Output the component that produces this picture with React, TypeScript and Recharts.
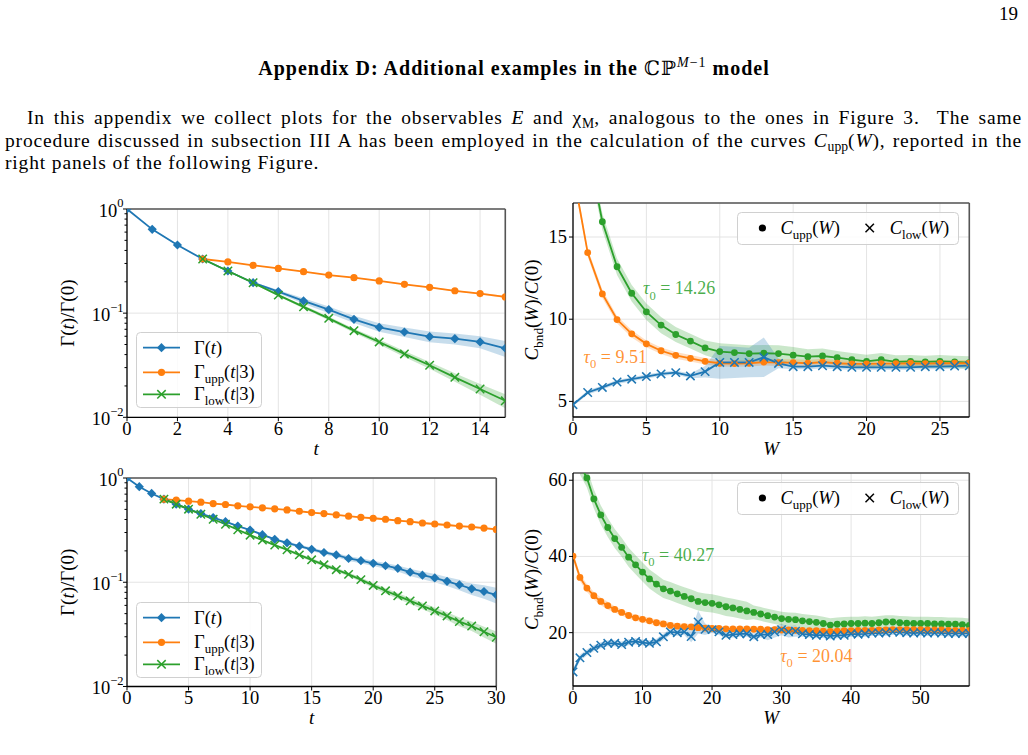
import React from 'react';
import {
  ComposedChart,
  Line,
  Area,
  XAxis,
  YAxis,
  CartesianGrid,
  ReferenceLine,
  ReferenceDot,
  Legend,
  Label,
} from 'recharts';

const BLUE = '#1f77b4';
const ORANGE = '#ff7f0e';
const GREEN = '#2ca02c';
const SERIF = '"Liberation Serif", "DejaVu Serif", serif';
const FS = 18;

// ---------- Top row, left panel: Γ(t) and its bounds, t = 0..15 ----------
const tTop = [0, 1, 2, 3, 4, 5, 6, 7, 8, 9, 10, 11, 12, 13, 14, 15];
const gammaTop = [1.0, 0.638, 0.451, 0.331, 0.254, 0.196, 0.161, 0.131, 0.108, 0.0873, 0.0731, 0.0659, 0.0595, 0.0569, 0.0529, 0.046];
const gammaTopErr = [0, 0.003, 0.003, 0.002, 0.002, 0.003, 0.006, 0.008, 0.008, 0.007, 0.007, 0.007, 0.007, 0.007, 0.007, 0.008];
const uppTop = [null, null, null, 0.331, 0.31, 0.288, 0.269, 0.25, 0.232, 0.219, 0.204, 0.189, 0.177, 0.164, 0.154, 0.143];
const uppTopErr = [0, 0, 0, 0, 0.002, 0.002, 0.002, 0.002, 0.002, 0.002, 0.002, 0.002, 0.002, 0.002, 0.003, 0.003];
const lowTop = [null, null, null, 0.331, 0.254, 0.196, 0.149, 0.115, 0.0892, 0.0679, 0.0529, 0.0406, 0.0316, 0.0242, 0.0187, 0.0144];
const lowTopErr = [0, 0, 0, 0, 0.004, 0.004, 0.004, 0.004, 0.0035, 0.003, 0.0028, 0.0026, 0.0024, 0.0023, 0.0022, 0.0022];

// ---------- Bottom row, left panel: t = 0..30 ----------
const tBot = [0, 1, 2, 3, 4, 5, 6, 7, 8, 9, 10, 11, 12, 13, 14, 15, 16, 17, 18, 19, 20, 21, 22, 23, 24, 25, 26, 27, 28, 29, 30];
const gammaBot = [1.0, 0.825, 0.711, 0.627, 0.561, 0.502, 0.456, 0.417, 0.381, 0.346, 0.317, 0.286, 0.258, 0.239, 0.222, 0.207, 0.193, 0.183, 0.169, 0.161, 0.152, 0.144, 0.136, 0.125, 0.117, 0.11, 0.102, 0.0946, 0.0865, 0.0815, 0.0757];
const gammaBotErr = [0, 0.003, 0.003, 0.003, 0.004, 0.004, 0.005, 0.005, 0.005, 0.006, 0.006, 0.006, 0.007, 0.007, 0.007, 0.008, 0.008, 0.008, 0.009, 0.009, 0.009, 0.009, 0.009, 0.01, 0.01, 0.01, 0.01, 0.011, 0.011, 0.012, 0.013];
const uppBot = [null, null, null, 0.627, 0.613, 0.6, 0.586, 0.569, 0.557, 0.541, 0.529, 0.517, 0.506, 0.494, 0.48, 0.466, 0.456, 0.442, 0.43, 0.42, 0.411, 0.402, 0.39, 0.381, 0.37, 0.362, 0.354, 0.346, 0.339, 0.331, 0.321];
const uppBotErr = [0, 0, 0, 0, 0.004, 0.004, 0.004, 0.004, 0.004, 0.004, 0.005, 0.005, 0.005, 0.005, 0.005, 0.005, 0.006, 0.006, 0.006, 0.006, 0.006, 0.006, 0.006, 0.007, 0.007, 0.007, 0.007, 0.007, 0.008, 0.008, 0.008];
const lowBot = [null, null, null, 0.627, 0.561, 0.502, 0.449, 0.402, 0.36, 0.319, 0.283, 0.254, 0.227, 0.205, 0.183, 0.164, 0.147, 0.132, 0.119, 0.106, 0.0932, 0.0828, 0.0741, 0.0663, 0.0593, 0.0531, 0.0475, 0.0419, 0.038, 0.0335, 0.0297];
const lowBotErr = [0, 0, 0, 0, 0.006, 0.006, 0.006, 0.006, 0.006, 0.006, 0.006, 0.006, 0.006, 0.006, 0.006, 0.006, 0.006, 0.0055, 0.005, 0.005, 0.005, 0.0048, 0.0046, 0.0044, 0.0042, 0.004, 0.004, 0.004, 0.004, 0.004, 0.004];

// ---------- Top row, right panel: C_bnd(W)/C(0), W = 0..27 ----------
const wTop = [0, 1, 2, 3, 4, 5, 6, 7, 8, 9, 10, 11, 12, 13, 14, 15, 16, 17, 18, 19, 20, 21, 22, 23, 24, 25, 26, 27];
const cUppGreenTop = [null, 20.5, 15.93, 13.19, 11.58, 10.45, 9.64, 9.07, 8.67, 8.25, 8.03, 7.97, 7.91, 7.93, 7.91, 7.81, 7.72, 7.76, 7.66, 7.54, 7.44, 7.54, 7.4, 7.44, 7.4, 7.44, 7.4, 7.36];
const cUppGreenTopErr = [0, 0.6, 0.5, 0.5, 0.5, 0.5, 0.5, 0.45, 0.45, 0.45, 0.5, 0.5, 0.5, 0.5, 0.5, 0.5, 0.45, 0.45, 0.4, 0.4, 0.4, 0.4, 0.4, 0.38, 0.38, 0.38, 0.38, 0.38];
const cUppOrangeTop = [19.0, 14.05, 11.54, 9.98, 9.11, 8.5, 8.08, 7.8, 7.62, 7.44, 7.32, 7.3, 7.32, 7.39, 7.36, 7.36, 7.32, 7.39, 7.32, 7.28, 7.28, 7.3, 7.3, 7.32, 7.3, 7.32, 7.32, 7.32];
const cUppOrangeTopErr = [0.3, 0.25, 0.25, 0.22, 0.22, 0.2, 0.2, 0.2, 0.2, 0.2, 0.2, 0.2, 0.2, 0.2, 0.2, 0.2, 0.2, 0.2, 0.2, 0.2, 0.2, 0.2, 0.2, 0.2, 0.2, 0.2, 0.2, 0.2];
const cLowTop = [4.8, 5.54, 5.85, 6.18, 6.35, 6.51, 6.67, 6.75, 6.55, 6.81, 7.37, 7.37, 7.37, 7.68, 7.31, 7.11, 7.11, 7.17, 7.11, 7.07, 7.07, 7.07, 7.07, 7.07, 7.11, 7.11, 7.15, 7.17];
const cLowTopErr = [0.1, 0.12, 0.12, 0.12, 0.12, 0.12, 0.12, 0.12, 0.15, 0.35, 1.0, 0.95, 0.9, 1.2, 0.3, 0.15, 0.15, 0.15, 0.15, 0.15, 0.15, 0.15, 0.15, 0.15, 0.15, 0.15, 0.15, 0.15];

// ---------- Bottom row, right panel: W = 0..57 ----------
const wBot = [0, 1, 2, 3, 4, 5, 6, 7, 8, 9, 10, 11, 12, 13, 14, 15, 16, 17, 18, 19, 20, 21, 22, 23, 24, 25, 26, 27, 28, 29, 30, 31, 32, 33, 34, 35, 36, 37, 38, 39, 40, 41, 42, 43, 44, 45, 46, 47, 48, 49, 50, 51, 52, 53, 54, 55, 56, 57];
const cUppGreenBot = [null, 64, 60.6, 55.1, 50.9, 47.6, 44.7, 42.4, 39.8, 37.8, 35.9, 34.1, 32.75, 31.5, 30.9, 30.2, 29.5, 28.9, 28.2, 27.9, 27.7, 27.3, 26.8, 26.5, 26.1, 25.7, 25.3, 24.9, 24.45, 24.1, 23.7, 23.5, 23.4, 23.1, 22.9, 22.7, 22.4, 22.0, 22.2, 22.3, 22.4, 22.4, 22.5, 22.4, 22.6, 22.8, 22.8, 22.6, 22.5, 22.4, 22.4, 22.4, 22.3, 22.3, 22.2, 22.2, 22.1, 21.9];
const cUppGreenBotErr = [0, 2.5, 2.5, 2.5, 2.5, 2.5, 2.5, 2.5, 2.5, 2.5, 2.5, 2.5, 2.5, 2.4, 2.4, 2.4, 2.4, 2.4, 2.4, 2.4, 2.4, 2.4, 2.4, 2.4, 2.4, 2.4, 1.8, 1.8, 1.8, 1.8, 1.8, 1.8, 1.8, 1.8, 1.8, 1.8, 1.8, 1.8, 1.8, 1.8, 1.8, 1.8, 1.8, 1.8, 1.8, 1.8, 1.8, 1.8, 1.8, 1.8, 1.8, 1.8, 1.8, 1.8, 1.8, 1.8, 1.8, 1.8];
const cUppOrangeBot = [40.1, 34.5, 31.7, 29.7, 28.2, 27.1, 26.1, 25.3, 24.5, 23.9, 23.5, 23.1, 22.6, 22.3, 21.9, 21.7, 21.6, 21.5, 21.3, 21.2, 21.1, 21.1, 21.0, 21.0, 21.0, 21.0, 20.9, 20.9, 20.8, 20.8, 20.7, 20.7, 20.6, 20.6, 20.5, 20.5, 20.4, 20.3, 20.4, 20.5, 20.5, 20.6, 20.6, 20.6, 20.7, 20.7, 20.8, 20.8, 20.8, 20.8, 20.8, 20.7, 20.7, 20.7, 20.6, 20.6, 20.6, 20.6];
const cUppOrangeBotErr = [1.0, 1.0, 1.0, 1.0, 1.0, 1.0, 0.8, 0.8, 0.8, 0.8, 0.8, 0.8, 0.8, 0.8, 0.8, 0.8, 0.8, 0.8, 0.8, 0.8, 0.8, 0.7, 0.7, 0.7, 0.7, 0.7, 0.7, 0.7, 0.7, 0.7, 0.7, 0.7, 0.7, 0.7, 0.7, 0.7, 0.7, 0.7, 0.7, 0.7, 0.7, 0.7, 0.7, 0.7, 0.7, 0.7, 0.7, 0.7, 0.7, 0.7, 0.7, 0.7, 0.7, 0.7, 0.7, 0.7, 0.7, 0.7];
const cLowBot = [9.7, 13.4, 14.8, 15.9, 16.7, 17.2, 17.2, 16.9, 17.5, 17.7, 17.4, 17.2, 17.6, 18.9, 20.2, 20.0, 20.2, 19.0, 22.8, 20.9, 20.8, 20.2, 19.3, 19.5, 19.7, 19.7, 18.95, 19.5, 19.5, 20.2, 20.8, 20.2, 20.4, 19.7, 19.5, 19.3, 19.4, 19.1, 19.3, 19.3, 19.7, 19.6, 19.7, 19.9, 19.9, 20.0, 20.2, 20.1, 20.0, 19.9, 20.0, 19.9, 20.0, 19.9, 19.8, 19.8, 19.8, 19.8];
const cLowBotErr = [0.8, 0.8, 0.8, 0.8, 0.8, 0.8, 0.8, 0.8, 0.8, 0.8, 0.8, 0.8, 0.8, 0.8, 0.8, 0.8, 0.8, 1.5, 3.0, 1.5, 0.8, 0.8, 0.8, 0.8, 0.8, 0.8, 0.8, 0.8, 1.5, 1.5, 1.5, 1.5, 1.5, 0.8, 0.8, 0.8, 0.8, 0.8, 0.8, 0.8, 0.8, 0.8, 0.8, 0.8, 0.8, 0.8, 0.8, 0.8, 0.8, 0.8, 0.8, 0.8, 0.8, 0.8, 0.8, 0.8, 0.8, 0.8];

// ---------- Axis ticks ----------
const logTicks = [0.01, 0.02, 0.03, 0.04, 0.05, 0.06, 0.07, 0.08, 0.09, 0.1, 0.2, 0.3, 0.4, 0.5, 0.6, 0.7, 0.8, 0.9, 1];
const logMajor = [0.01, 0.1, 1];
const logExp: Record<string, string> = { '0.01': '−2', '0.1': '−1', '1': '0' };
const tTopTicks = [0, 2, 4, 6, 8, 10, 12, 14];
const tBotTicks = [0, 5, 10, 15, 20, 25, 30];
const wTopTicks = [0, 5, 10, 15, 20, 25];
const wBotTicks = [0, 10, 20, 30, 40, 50];
const cTopTicks = [5, 10, 15];
const cBotTicks = [20, 40, 60];

type Seg = { t: string; it?: boolean; sub?: boolean; sup?: boolean };

function mathSpans(segs: Seg[], size: number) {
  let shift = 0;
  return segs.map((s, i) => {
    const target = s.sub ? size * 0.28 : s.sup ? -size * 0.45 : 0;
    const dy = target - shift;
    shift = target;
    return (
      <tspan
        key={i}
        dy={dy}
        fontStyle={s.it ? 'italic' : 'normal'}
        fontSize={s.sub || s.sup ? size * 0.7 : size}
      >
        {s.t}
      </tspan>
    );
  });
}

function buildRows(xs: number[], cols: Record<string, (number | null)[]>, errs: Record<string, number[]>) {
  return xs.map((x, i) => {
    const r: any = { x };
    Object.keys(cols).forEach((k) => {
      const v = cols[k][i];
      const e = errs[k][i];
      r[k] = v;
      r[k + 'Band'] = v == null ? null : [v - e, v + e];
    });
    return r;
  });
}

const dataTL = buildRows(tTop, { g: gammaTop, u: uppTop, l: lowTop }, { g: gammaTopErr, u: uppTopErr, l: lowTopErr });
const dataBL = buildRows(tBot, { g: gammaBot, u: uppBot, l: lowBot }, { g: gammaBotErr, u: uppBotErr, l: lowBotErr });
const dataTR = buildRows(wTop, { gr: cUppGreenTop, or: cUppOrangeTop, lo: cLowTop }, { gr: cUppGreenTopErr, or: cUppOrangeTopErr, lo: cLowTopErr });
const dataBR = buildRows(wBot, { gr: cUppGreenBot, or: cUppOrangeBot, lo: cLowBot }, { gr: cUppGreenBotErr, or: cUppOrangeBotErr, lo: cLowBotErr });

type Marker = 'diamond' | 'circle' | 'cross';

function markerShape(kind: Marker, color: string, cx: number, cy: number, key?: any, r = 3.6) {
  if (kind === 'diamond') {
    const d = 4.6;
    return <path key={key} d={`M${cx},${cy - d}L${cx + d},${cy}L${cx},${cy + d}L${cx - d},${cy}Z`} fill={color} />;
  }
  if (kind === 'circle') return <circle key={key} cx={cx} cy={cy} r={r} fill={color} />;
  const s = 4.2;
  return (
    <g key={key} stroke={color} strokeWidth={1.5}>
      <line x1={cx - s} y1={cy - s} x2={cx + s} y2={cy + s} />
      <line x1={cx - s} y1={cy + s} x2={cx + s} y2={cy - s} />
    </g>
  );
}

function makeDot(kind: Marker, color: string, r?: number) {
  return (p: any) => {
    const { cx, cy, index, value } = p;
    if (cx == null || cy == null || value == null || Number.isNaN(cy)) return <g key={'d' + index} />;
    return markerShape(kind, color, cx, cy, 'd' + index, r);
  };
}

const XTick = (p: any) => (
  <g>
    <line x1={p.x} x2={p.x} y1={p.y} y2={p.y + 4} stroke="#000" />
    <text x={p.x} y={p.y + 18} textAnchor="middle" fontSize={FS + 0.5} fontFamily={SERIF} fill="#000">
      {p.payload.value}
    </text>
  </g>
);

const YTick = (p: any) => (
  <g>
    <line x1={p.x - 4} x2={p.x} y1={p.y} y2={p.y} stroke="#000" />
    <text x={p.x - 6} y={p.y + 6} textAnchor="end" fontSize={FS + 0.5} fontFamily={SERIF} fill="#000">
      {p.payload.value}
    </text>
  </g>
);

const LogTick = (p: any) => {
  const v = p.payload.value;
  const major = logMajor.some((m) => Math.abs(m - v) < 1e-9);
  if (!major) return <line x1={p.x - 2.5} x2={p.x} y1={p.y} y2={p.y} stroke="#000" />;
  return (
    <g>
      <line x1={p.x - 4} x2={p.x} y1={p.y} y2={p.y} stroke="#000" />
      <text x={p.x - 3.5} y={p.y + 8} textAnchor="end" fontSize={FS + 0.5} fontFamily={SERIF} fill="#000">
        10
        <tspan dy={-9.5} fontSize={12.5}>
          {logExp[String(v)]}
        </tspan>
      </text>
    </g>
  );
};

type Geo = { left: number; top: number; width: number; height: number };
type Series = { key: string; color: string; marker: Marker; r?: number };
type Note = { x: number; y: number; segs: Seg[]; color: string };

const AX_W = 72;
const PAD_T = 14;
const PAD_R = 16;
const AX_H = 48;

type PanelProps = {
  geo: Geo;
  data: any[];
  xDomain: [number, number];
  xTicks: number[];
  yDomain: [number, number];
  yTicks: number[];
  log?: boolean;
  series: Series[];
  xLabel: Seg[];
  yLabel: Seg[];
  yLabelOffset: number;
  legend: React.ReactNode;
  legendAt: { x: number; y: number; w: number; h: number };
  notes?: Note[];
};

function Panel(p: PanelProps) {
  const box = {
    left: p.geo.left - AX_W,
    top: p.geo.top - PAD_T,
    width: p.geo.width + AX_W + PAD_R,
    height: p.geo.height + PAD_T + AX_H,
  };
  const grid = '#e4e4e4';
  return (
    <div style={{ position: 'absolute', left: box.left, top: box.top }}>
      <ComposedChart
        width={box.width}
        height={box.height}
        data={p.data}
        margin={{ top: PAD_T, right: PAD_R, bottom: 0, left: 0 }}
        style={{ fontFamily: SERIF }}
      >
        <CartesianGrid stroke={grid} strokeWidth={1} horizontal={!p.log} />
        {p.log &&
          logMajor.map((v) => <ReferenceLine key={'hg' + v} y={v} stroke={grid} strokeWidth={1} />)}
        <XAxis
          dataKey="x"
          type="number"
          domain={p.xDomain}
          ticks={p.xTicks}
          interval={0}
          allowDataOverflow
          height={AX_H}
          tickSize={0}
          tickMargin={0}
          tickLine={false}
          axisLine={{ stroke: '#000', strokeWidth: 1.3 }}
          tick={(tp: any) => <XTick {...tp} />}
          label={
            <Label
              content={(lp: any) => {
                const vb = lp.viewBox;
                return (
                  <text x={vb.x + vb.width / 2} y={vb.y + 38} textAnchor="middle" fontSize={FS + 1} fontFamily={SERIF}>
                    {mathSpans(p.xLabel, FS + 1)}
                  </text>
                );
              }}
            />
          }
        />
        <YAxis
          type="number"
          scale={p.log ? 'log' : 'auto'}
          domain={p.yDomain}
          ticks={p.yTicks}
          interval={0}
          allowDataOverflow
          width={AX_W}
          tickSize={0}
          tickMargin={0}
          tickLine={false}
          axisLine={{ stroke: '#000', strokeWidth: 1.3 }}
          tick={(tp: any) => (p.log ? <LogTick {...tp} /> : <YTick {...tp} />)}
          label={
            <Label
              content={(lp: any) => {
                const vb = lp.viewBox;
                const cx = vb.x + p.yLabelOffset;
                const cy = vb.y + vb.height / 2;
                return (
                  <text
                    x={cx}
                    y={cy}
                    transform={`rotate(-90 ${cx} ${cy})`}
                    textAnchor="middle"
                    fontSize={FS + 1}
                    fontFamily={SERIF}
                  >
                    {mathSpans(p.yLabel, FS + 1)}
                  </text>
                );
              }}
            />
          }
        />
        <ReferenceLine y={p.yDomain[1]} stroke="#555" strokeWidth={1.6} />
        <ReferenceLine x={p.xDomain[1]} stroke="#555" strokeWidth={1.6} />
        {p.series.map((s) => (
          <Area
            key={'band-' + s.key}
            dataKey={s.key + 'Band'}
            type="linear"
            stroke="none"
            fill={s.color}
            fillOpacity={0.25}
            isAnimationActive={false}
            activeDot={false}
            connectNulls={false}
          />
        ))}
        {p.series.map((s) => (
          <Line
            key={'line-' + s.key}
            dataKey={s.key}
            type="linear"
            stroke={s.color}
            strokeWidth={1.8}
            dot={makeDot(s.marker, s.color, s.r)}
            activeDot={false}
            isAnimationActive={false}
          />
        ))}
        {(p.notes || []).map((n, i) => (
          <ReferenceDot
            key={'note' + i}
            x={n.x}
            y={n.y}
            r={0}
            shape={(sp: any) => (
              <text x={sp.cx} y={sp.cy + 6} fill={n.color} fillOpacity={0.85} fontSize={FS} fontFamily={SERIF}>
                {mathSpans(n.segs, FS)}
              </text>
            )}
          />
        ))}
        <Legend
          layout="horizontal"
          verticalAlign="middle"
          align="center"
          wrapperStyle={{
            position: 'absolute',
            left: p.legendAt.x - box.left,
            top: p.legendAt.y - box.top,
            width: p.legendAt.w,
            height: p.legendAt.h,
          }}
          content={() => p.legend}
        />
      </ComposedChart>
    </div>
  );
}

const gammaLegendRows: { color: string; marker: Marker; segs: Seg[]; y: number }[] = [
  { color: BLUE, marker: 'diamond', segs: [{ t: 'Γ(' }, { t: 't', it: true }, { t: ')' }], y: 15.7 },
  { color: ORANGE, marker: 'circle', segs: [{ t: 'Γ' }, { t: 'upp', sub: true }, { t: '(' }, { t: 't', it: true }, { t: '|3)' }], y: 40.3 },
  { color: GREEN, marker: 'cross', segs: [{ t: 'Γ' }, { t: 'low', sub: true }, { t: '(' }, { t: 't', it: true }, { t: '|3)' }], y: 62.3 },
];

const GammaLegend = () => (
  <svg width={126} height={76} style={{ display: 'block', overflow: 'visible' }}>
    <rect x={0.5} y={0.5} width={125} height={75} rx={4} fill="#fff" fillOpacity={0.85} stroke="#d0d0d0" />
    {gammaLegendRows.map((r, i) => (
      <g key={i}>
        <line x1={7} x2={44} y1={r.y} y2={r.y} stroke={r.color} strokeWidth={1.8} />
        {markerShape(r.marker, r.color, 25.5, r.y)}
        <text x={58} y={r.y + 6} fontSize={FS + 0.5} fontFamily={SERIF}>
          {mathSpans(r.segs, FS + 0.5)}
        </text>
      </g>
    ))}
  </svg>
);

const BoundLegend = () => (
  <svg width={222} height={33} style={{ display: 'block', overflow: 'visible' }}>
    <rect x={0.5} y={0.5} width={221} height={32} rx={4} fill="#fff" fillOpacity={0.85} stroke="#d0d0d0" />
    {markerShape('circle', '#000', 25.4, 16)}
    <text x={43.4} y={22} fontSize={FS + 0.5} fontFamily={SERIF}>
      {mathSpans([{ t: 'C', it: true }, { t: 'upp', sub: true }, { t: '(' }, { t: 'W', it: true }, { t: ')' }], FS + 0.5)}
    </text>
    {markerShape('cross', '#000', 132.7, 16)}
    <text x={152.7} y={22} fontSize={FS + 0.5} fontFamily={SERIF}>
      {mathSpans([{ t: 'C', it: true }, { t: 'low', sub: true }, { t: '(' }, { t: 'W', it: true }, { t: ')' }], FS + 0.5)}
    </text>
  </svg>
);

const gammaSeries: Series[] = [
  { key: 'g', color: BLUE, marker: 'diamond' },
  { key: 'u', color: ORANGE, marker: 'circle' },
  { key: 'l', color: GREEN, marker: 'cross' },
];

const boundSeries: Series[] = [
  { key: 'gr', color: GREEN, marker: 'circle', r: 3.4 },
  { key: 'or', color: ORANGE, marker: 'circle', r: 3.4 },
  { key: 'lo', color: BLUE, marker: 'cross' },
];

const gammaYLabel: Seg[] = [{ t: 'Γ(' }, { t: 't', it: true }, { t: ')/Γ(0)' }];
const boundYLabel: Seg[] = [
  { t: 'C', it: true },
  { t: 'bnd', sub: true },
  { t: '(' },
  { t: 'W', it: true },
  { t: ')/' },
  { t: 'C', it: true },
  { t: '(0)' },
];

const tau = (v: string): Seg[] => [{ t: 'τ', it: true }, { t: '0', sub: true }, { t: ' = ' + v }];

const sub: React.CSSProperties = { fontSize: '0.7em', verticalAlign: '-0.3em', lineHeight: 0, letterSpacing: 0 };
const sup: React.CSSProperties = { fontSize: '0.7em', verticalAlign: '0.55em', lineHeight: 0, fontWeight: 'normal' };

export default function App() {
  return (
    <div
      style={{
        position: 'absolute',
        left: 0,
        top: 0,
        width: 1028,
        height: 755,
        background: '#fff',
        overflow: 'hidden',
        fontFamily: SERIF,
        color: '#000',
      }}
    >
      <div style={{ position: 'absolute', right: 10, top: 2, fontSize: 19, lineHeight: '24px' }}>19</div>
      <div
        style={{
          position: 'absolute',
          left: 0,
          width: 1028,
          top: 56,
          textAlign: 'center',
          fontWeight: 'bold',
          fontSize: 20,
          letterSpacing: 1,
          lineHeight: '24px',
        }}
      >
        Appendix D: Additional examples in the <span style={{ fontWeight: 'normal' }}>ℂℙ</span>
        <span style={{ ...sup, fontStyle: 'italic' }}>M</span>
        <span style={sup}>−1</span> model
      </div>
      <div
        style={{
          position: 'absolute',
          left: 5,
          top: 107,
          width: 1017,
          fontSize: 19.5,
          letterSpacing: 0.85,
          lineHeight: '22.5px',
        }}
      >
        <div style={{ textAlign: 'justify', textAlignLast: 'justify', paddingLeft: 22 }}>
          In this appendix we collect plots for the observables <i>E</i> and χ<span style={sub}>M</span>, analogous to
          the ones in Figure 3.&nbsp; The same
        </div>
        <div style={{ textAlign: 'justify', textAlignLast: 'justify' }}>
          procedure discussed in subsection III A has been employed in the calculation of the curves <i>C</i>
          <span style={sub}>upp</span>(<i>W</i>), reported in the
        </div>
        <div>right panels of the following Figure.</div>
      </div>

      <Panel
        geo={{ left: 126.7, top: 209, width: 378.3, height: 208.3 }}
        data={dataTL}
        xDomain={[0, 15]}
        xTicks={tTopTicks}
        yDomain={[0.01, 1]}
        yTicks={logTicks}
        log
        series={gammaSeries}
        xLabel={[{ t: 't', it: true }]}
        yLabel={gammaYLabel}
        yLabelOffset={19}
        legend={<GammaLegend />}
        legendAt={{ x: 136, y: 332, w: 126, h: 76 }}
      />
      <Panel
        geo={{ left: 572.7, top: 203.3, width: 396.3, height: 214 }}
        data={dataTR}
        xDomain={[0, 27]}
        xTicks={wTopTicks}
        yDomain={[4.05, 17.07]}
        yTicks={cTopTicks}
        series={boundSeries}
        xLabel={[{ t: 'W', it: true }]}
        yLabel={boundYLabel}
        yLabelOffset={37}
        legend={<BoundLegend />}
        legendAt={{ x: 737.3, y: 212.3, w: 222, h: 33 }}
        notes={[
          { x: 4.77, y: 11.87, segs: tau('14.26'), color: GREEN },
          { x: 0.72, y: 7.7, segs: tau('9.51'), color: ORANGE },
        ]}
      />
      <Panel
        geo={{ left: 126.7, top: 477.5, width: 369.3, height: 208.5 }}
        data={dataBL}
        xDomain={[0, 30]}
        xTicks={tBotTicks}
        yDomain={[0.01, 1]}
        yTicks={logTicks}
        log
        series={gammaSeries}
        xLabel={[{ t: 't', it: true }]}
        yLabel={gammaYLabel}
        yLabelOffset={19}
        legend={<GammaLegend />}
        legendAt={{ x: 136, y: 601.7, w: 126, h: 76 }}
      />
      <Panel
        geo={{ left: 572.7, top: 472.7, width: 396.3, height: 213 }}
        data={dataBR}
        xDomain={[0, 57]}
        xTicks={wBotTicks}
        yDomain={[6, 61.9]}
        yTicks={cBotTicks}
        series={boundSeries}
        xLabel={[{ t: 'W', it: true }]}
        yLabel={boundYLabel}
        yLabelOffset={37}
        legend={<BoundLegend />}
        legendAt={{ x: 737.3, y: 481.7, w: 222, h: 33 }}
        notes={[
          { x: 9.91, y: 40.37, segs: tau('40.27'), color: GREEN },
          { x: 29.8, y: 13.86, segs: tau('20.04'), color: ORANGE },
        ]}
      />
    </div>
  );
}
